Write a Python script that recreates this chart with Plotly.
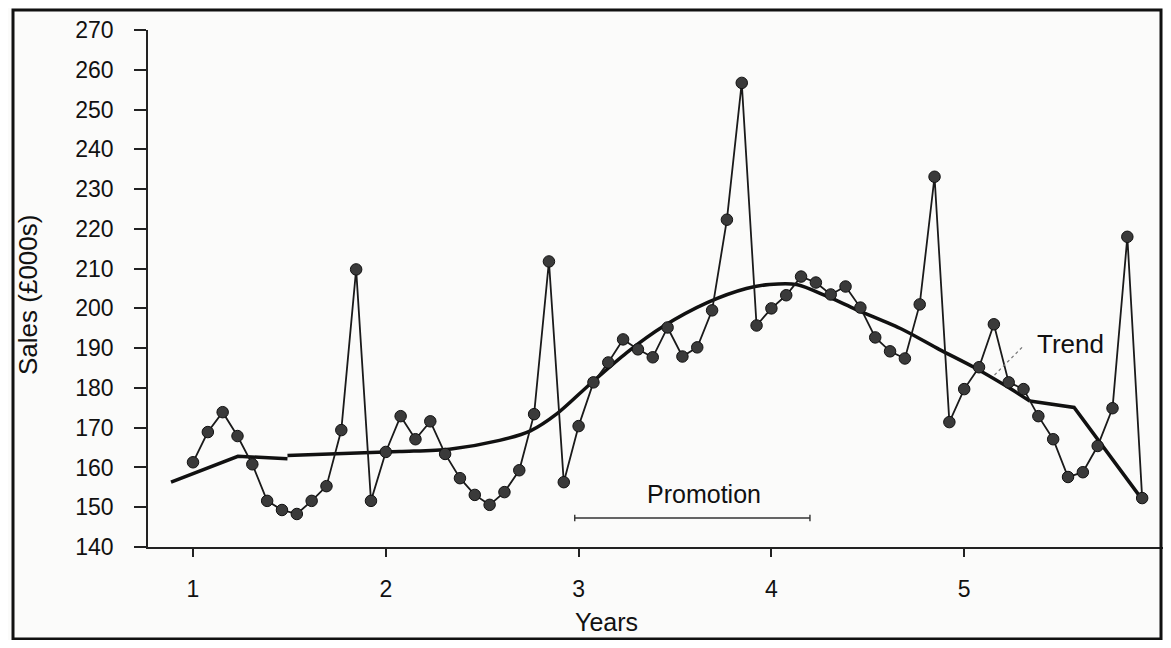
import plotly.graph_objects as go

# ---- data ----
# 65 four-weekly periods (13 per year), years 1..5
period_index = list(range(65))
sales = [
    161.3, 168.9, 173.9, 167.9, 160.8, 151.6, 149.3, 148.3, 151.6, 155.3, 169.4, 209.8, 151.6,
    163.9, 172.9, 167.1, 171.6, 163.4, 157.3, 153.1, 150.6, 153.8, 159.3, 173.4, 211.8, 156.3,
    170.4, 181.4, 186.4, 192.2, 189.7, 187.7, 195.2, 187.9, 190.2, 199.5, 222.3, 256.7, 195.7,
    200.0, 203.3, 208.0, 206.5, 203.5, 205.5, 200.2, 192.7, 189.2, 187.4, 201.0, 233.1, 171.4,
    179.7, 185.2, 196.0, 181.4, 179.7, 172.9, 167.1, 157.6, 158.8, 165.4, 174.9, 218.0, 152.3,
]
periods_per_year = 13

# trend: straight start, smooth middle, straight end
trend_start_years = [0.886, 1.233, 1.49]
trend_start_sales = [156.3, 162.8, 162.2]
trend_mid_years = [1.49, 2.07, 2.33, 2.59, 2.75, 2.89, 3.06, 3.25, 3.44, 3.67, 3.87, 3.99,
                   4.13, 4.29, 4.44, 4.68, 4.87, 5.05, 5.22, 5.34]
trend_mid_sales = [163.0, 164.0, 164.6, 166.8, 169.2, 173.6, 181.0, 188.9, 195.5, 201.5, 205.0,
                   206.0, 206.0, 203.0, 199.7, 194.7, 189.7, 185.2, 180.4, 176.7]
trend_end_years = [5.34, 5.44, 5.57, 5.91]
trend_end_sales = [176.7, 176.0, 175.1, 152.8]

promotion_start, promotion_end = 2.98, 4.2
year_ticks = [1, 2, 3, 4, 5]
sales_ticks = [140, 150, 160, 170, 180, 190, 200, 210, 220, 230, 240, 250, 260, 270]

years = [1 + p / periods_per_year for p in period_index]

# ---- layout geometry (page has an 8px body margin on every side) ----
OFF = 8
W, H = 1171 - 2 * OFF, 648 - 2 * OFF
ML, MR, MT, MB = 148 - OFF, 0, 30 - OFF, 648 - OFF - 547
PW, PH = W - ML - MR, H - MT - MB

def px_x(px):
    return (px - OFF - ML) / PW

def px_y(py):
    return (H - MB - (py - OFF)) / PH

FONT = "Liberation Sans, Arial, sans-serif"
TREND_LINE = dict(color="#111111", width=3.5)

fig = go.Figure()

fig.add_trace(go.Scatter(x=trend_start_years, y=trend_start_sales, mode="lines",
                         line=TREND_LINE, showlegend=False, hoverinfo="skip"))
fig.add_trace(go.Scatter(x=trend_mid_years, y=trend_mid_sales, mode="lines",
                         line=dict(TREND_LINE, shape="spline", smoothing=0.8),
                         showlegend=False, hoverinfo="skip"))
fig.add_trace(go.Scatter(x=trend_end_years, y=trend_end_sales, mode="lines",
                         line=TREND_LINE, showlegend=False, hoverinfo="skip"))

fig.add_trace(go.Scatter(
    x=years, y=sales, mode="lines+markers",
    line=dict(color="#1a1a1a", width=1.8),
    marker=dict(size=11.5, color="#3a3a3a", line=dict(color="#111111", width=1)),
    showlegend=False))

# promotion bracket
fig.add_shape(type="line", x0=promotion_start, x1=promotion_end, y0=147.3, y1=147.3,
              xref="x", yref="y", line=dict(color="#333333", width=1.4))
for xv in (promotion_start, promotion_end):
    fig.add_shape(type="line", x0=xv, x1=xv, y0=146.5, y1=148.1,
                  xref="x", yref="y", line=dict(color="#333333", width=1.4))

fig.add_annotation(x=(promotion_start + promotion_end) / 2 + 0.06, y=153.3, text="Promotion",
                   showarrow=False, xref="x", yref="y",
                   font=dict(family=FONT, size=25, color="#111111"))

# Trend label with dotted leader
fig.add_annotation(x=5.55, y=191, text="Trend", showarrow=False, xref="x", yref="y",
                   font=dict(family=FONT, size=26, color="#111111"))
fig.add_shape(type="line", x0=5.30, y0=190.2, x1=5.15, y1=182.9, xref="x", yref="y",
              line=dict(color="#777777", width=1.2, dash="dot"))

# axis titles
fig.add_annotation(x=px_x(606), y=px_y(622), xref="paper", yref="paper", text="Years",
                   showarrow=False, xanchor="center", yanchor="middle",
                   font=dict(family=FONT, size=25, color="#111111"))
fig.add_annotation(x=px_x(28), y=px_y(295), xref="paper", yref="paper", text="Sales (£000s)",
                   showarrow=False, textangle=-90, xanchor="center", yanchor="middle",
                   font=dict(family=FONT, size=26, color="#111111"))

# outer frame of the scanned figure
fig.add_shape(type="rect", xref="paper", yref="paper",
              x0=px_x(13), x1=px_x(1161), y0=px_y(639), y1=px_y(10),
              line=dict(color="#111111", width=3))

fig.update_layout(
    width=W, height=H,
    margin=dict(l=ML, r=MR, t=MT, b=MB),
    paper_bgcolor="#fbfbfa", plot_bgcolor="#fbfbfa",
    font=dict(family=FONT, color="#111111"),
    xaxis=dict(range=[1 - 45 / 192.8, 1 + (1163 - 193) / 192.8], tickvals=year_ticks,
               ticktext=[str(v) for v in year_ticks],
               showgrid=False, zeroline=False, showline=True, linecolor="#222222", linewidth=2,
               ticks="outside", ticklen=8, tickwidth=1.5, tickcolor="#222222",
               ticklabelstandoff=12, tickfont=dict(family=FONT, size=23, color="#111111")),
    yaxis=dict(range=[140, 270], tickvals=sales_ticks,
               showgrid=False, zeroline=False, showline=True, linecolor="#222222", linewidth=1.5,
               ticks="outside", ticklen=12, tickwidth=1.5, tickcolor="#222222",
               ticklabelstandoff=16, tickfont=dict(family=FONT, size=23, color="#111111")),
)

fig.write_html("out.html")
